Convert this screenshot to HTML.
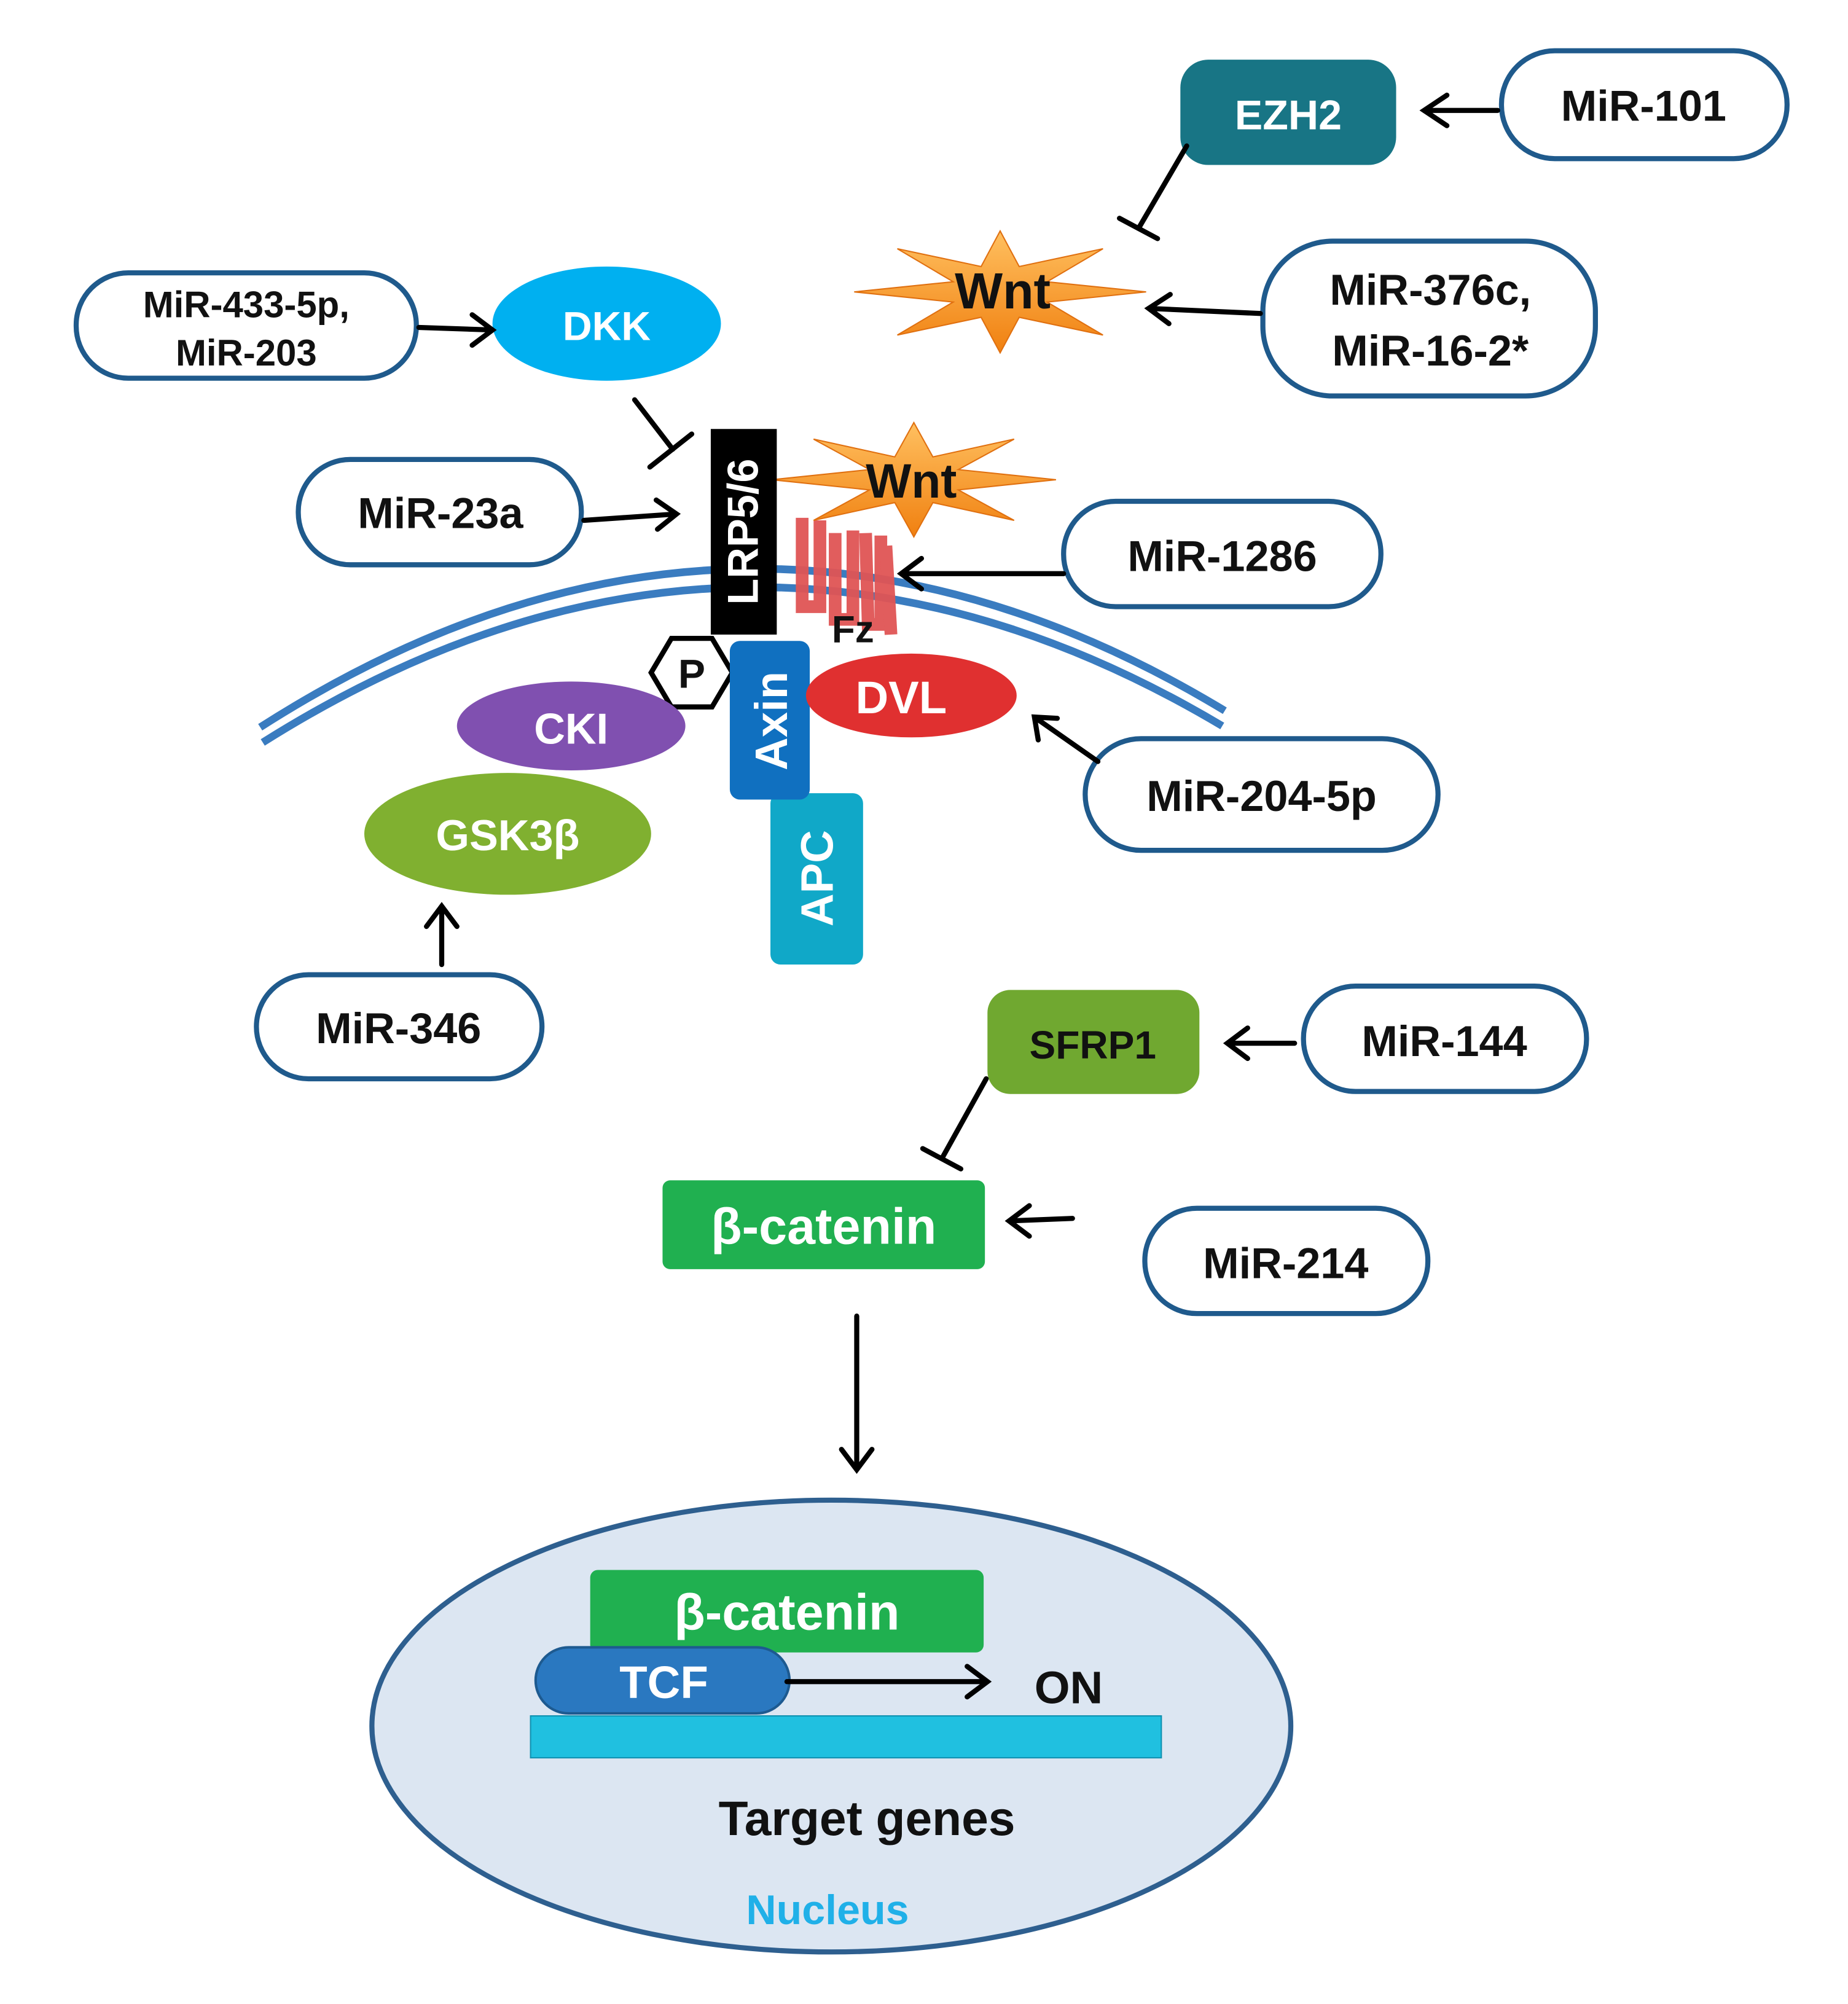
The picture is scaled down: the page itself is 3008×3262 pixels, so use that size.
<!DOCTYPE html>
<html><head><meta charset="utf-8">
<style>
html,body{margin:0;padding:0;background:#fff;}
svg{display:block;}
text{font-family:"Liberation Sans",sans-serif;font-weight:bold;}
</style></head><body>
<svg width="3008" height="3262" viewBox="0 0 1456 1579" xmlns="http://www.w3.org/2000/svg">
<defs>
<linearGradient id="star" x1="0" y1="0" x2="0" y2="1"><stop offset="0" stop-color="#ffc060"/><stop offset="1" stop-color="#f08010"/></linearGradient>
</defs>

<!-- membrane -->
<path d="M205,573 Q585,330 965,560" fill="none" stroke="#3a7cc0" stroke-width="6"/>
<path d="M207,585 Q585,347 963,572" fill="none" stroke="#3a7cc0" stroke-width="6"/>

<!-- pill boxes -->
<g fill="#fff" stroke="#1f5a8c" stroke-width="4">
<rect x="1183" y="40" width="225" height="85" rx="42"/>
<rect x="995" y="190" width="262" height="122" rx="55"/>
<rect x="60" y="215" width="268" height="83" rx="41"/>
<rect x="235" y="362" width="223" height="83" rx="41"/>
<rect x="838" y="395" width="250" height="83" rx="41"/>
<rect x="855" y="582" width="278" height="88" rx="44"/>
<rect x="202" y="768" width="225" height="82" rx="41"/>
<rect x="1027" y="777" width="223" height="83" rx="41"/>
<rect x="902" y="952" width="223" height="83" rx="41"/>
</g>
<g font-size="34" text-anchor="middle" fill="#111">
<text x="1295" y="95">MiR-101</text>
<text x="1127" y="240">MiR-376c,</text>
<text x="1127" y="288">MiR-16-2*</text>
<text x="194" y="250" font-size="29">MiR-433-5p,</text>
<text x="194" y="288" font-size="29">MiR-203</text>
<text x="347" y="416">MiR-23a</text>
<text x="963" y="450">MiR-1286</text>
<text x="994" y="639">MiR-204-5p</text>
<text x="314" y="822">MiR-346</text>
<text x="1138" y="832">MiR-144</text>
<text x="1013" y="1007">MiR-214</text>
</g>

<!-- EZH2 -->
<rect x="930" y="47" width="170" height="83" rx="22" fill="#187585"/>
<text x="1015" y="102" font-size="33" fill="#fff" text-anchor="middle">EZH2</text>

<!-- Wnt star 1 -->
<polygon fill="url(#star)" stroke="#e07010" stroke-width="1" points="903,230 825,238 869,264 803,250 788,278 773,250 707,264 751,238 673,230 751,222 707,196 773,210 788,182 803,210 869,196 825,222"/>
<text x="790" y="243" font-size="40" text-anchor="middle" fill="#111">Wnt</text>

<!-- DKK -->
<ellipse cx="478" cy="255" rx="90" ry="45" fill="#00b0f0"/>
<text x="478" y="268" font-size="32" fill="#fff" text-anchor="middle">DKK</text>

<!-- Fz bars -->
<g fill="none" stroke="#e05555" stroke-width="10" opacity="0.95">
<path d="M632,408 L632,478 L646,478 L646,410"/>
<path d="M658,420 L658,488 L672,488 L672,418"/>
<path d="M682,420 L684,492 L694,492 L694,422"/>
<path d="M698,430 L702,500"/>
</g>
<text x="672" y="506" font-size="30" text-anchor="middle" fill="#111">Fz</text>

<!-- Wnt star 2 -->
<polygon fill="url(#star)" stroke="#e07010" stroke-width="1" points="832,378 755,386 799,410 735,396 720,423 705,396 641,410 685,386 608,378 685,370 641,346 705,360 720,333 735,360 799,346 755,370"/>
<text x="718" y="392" font-size="38" text-anchor="middle" fill="#111">Wnt</text>

<!-- LRP -->
<rect x="560" y="338" width="52" height="162" fill="#000"/>
<text transform="translate(597,419) rotate(-90)" font-size="34" text-anchor="middle" fill="#fff">LRP5/6</text>

<!-- P hex -->
<polygon points="513,530 529,503 561,503 577,530 561,557 529,557" fill="#fff" stroke="#000" stroke-width="4"/>
<text x="545" y="542" font-size="32" text-anchor="middle" fill="#111">P</text>

<!-- CKI, GSK -->
<ellipse cx="450" cy="572" rx="90" ry="35" fill="#8050b0"/>
<text x="450" y="586" font-size="34" text-anchor="middle" fill="#fff">CKI</text>
<ellipse cx="400" cy="657" rx="113" ry="48" fill="#80b030"/>
<text x="400" y="670" font-size="34" text-anchor="middle" fill="#fff">GSK3β</text>

<!-- APC -->
<rect x="607" y="625" width="73" height="135" rx="8" fill="#10a8c8"/>
<text transform="translate(656,692) rotate(-90)" font-size="36" text-anchor="middle" fill="#fff">APC</text>
<!-- Axin -->
<rect x="575" y="505" width="63" height="125" rx="8" fill="#1070c0"/>
<text transform="translate(620,568) rotate(-90)" font-size="36" text-anchor="middle" fill="#fff">Axin</text>
<!-- DVL -->
<ellipse cx="718" cy="548" rx="83" ry="33" fill="#e03030"/>
<text x="710" y="562" font-size="36" text-anchor="middle" fill="#fff">DVL</text>

<!-- SFRP1 -->
<rect x="778" y="780" width="167" height="82" rx="18" fill="#70a830"/>
<text x="861" y="834" font-size="31" text-anchor="middle" fill="#111">SFRP1</text>

<!-- beta catenin -->
<rect x="522" y="930" width="254" height="70" rx="6" fill="#20b050"/>
<text x="649" y="980" font-size="40" text-anchor="middle" fill="#fff">β-catenin</text>

<!-- Nucleus -->
<ellipse cx="655" cy="1360" rx="362" ry="178" fill="#dce6f2" stroke="#2e5f8f" stroke-width="4"/>
<rect x="465" y="1237" width="310" height="65" rx="6" fill="#20b050"/>
<text x="620" y="1284" font-size="40" text-anchor="middle" fill="#fff">β-catenin</text>
<rect x="422" y="1298" width="200" height="52" rx="26" fill="#2a78c0" stroke="#1d5a90" stroke-width="2"/>
<text x="523" y="1338" font-size="36" text-anchor="middle" fill="#fff">TCF</text>
<rect x="418" y="1352" width="497" height="33" fill="#20c0e0" stroke="#1090b0" stroke-width="1"/>
<text x="842" y="1342" font-size="36" text-anchor="middle" fill="#111">ON</text>
<text x="683" y="1446" font-size="38" text-anchor="middle" fill="#111">Target genes</text>
<text x="652" y="1516" font-size="33" text-anchor="middle" fill="#20b0e8">Nucleus</text>

<!-- arrows -->
<g stroke="#000" stroke-width="4" fill="none" stroke-linecap="round">
<path d="M1180,87 L1122,87 M1140,75 L1122,87 L1140,99"/>
<path d="M993,247 L905,243 M922,232 L905,243 L921,255"/>
<path d="M330,258 L388,260 M372,248 L388,260 L372,272"/>
<path d="M460,410 L533,405 M517,394 L533,405 L518,417"/>
<path d="M838,452 L710,452 M726,440 L710,452 L726,464"/>
<path d="M865,600 L815,565 M818,583 L815,565 L833,566"/>
<path d="M348,760 L348,714 M336,730 L348,714 L360,730"/>
<path d="M1020,822 L967,822 M983,810 L967,822 L983,834"/>
<path d="M845,960 L795,962 M811,950 L795,962 L811,974"/>
<path d="M675,1037 L675,1158 M663,1142 L675,1158 L687,1142"/>
<path d="M620,1325 L778,1325 M762,1313 L778,1325 L762,1337"/>
<path d="M935,115 L897,180 M882,172 L912,188"/>
<path d="M500,315 L530,354 M512,368 L545,342"/>
<path d="M777,850 L742,913 M727,905 L757,921"/>
</g>
</svg>
</body></html>
